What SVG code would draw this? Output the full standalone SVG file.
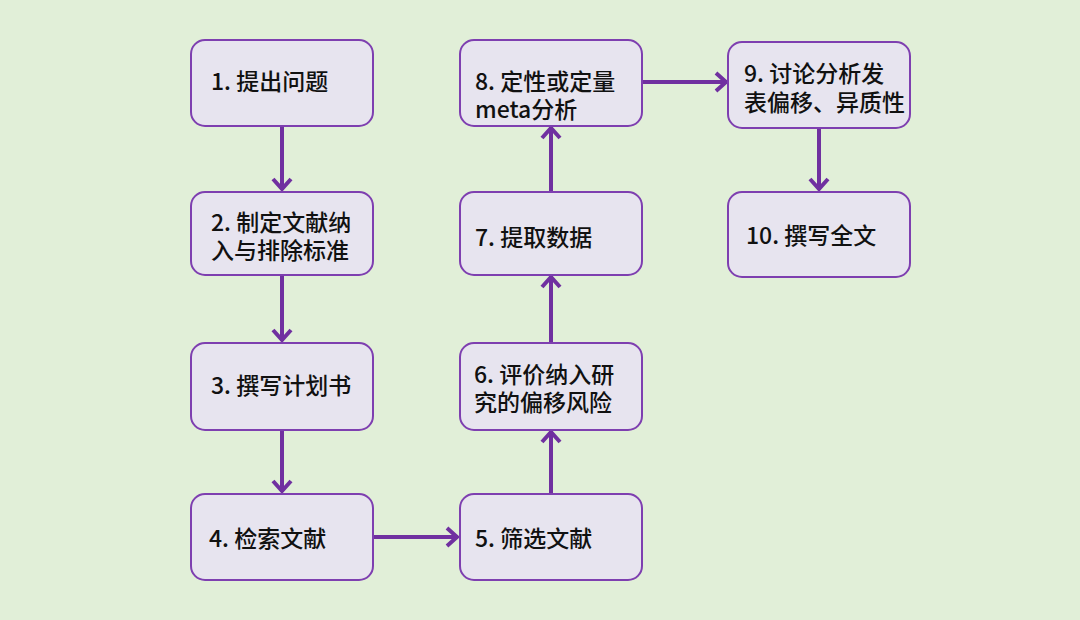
<svg xmlns="http://www.w3.org/2000/svg" width="1080" height="620" viewBox="0 0 1080 620">
<style>
.box{fill:#e7e4ef;stroke:#7e3fb0;stroke-width:2}
.t{font-family:"Noto Sans CJK SC","Noto Sans",sans-serif;font-size:23px;font-weight:500;fill:#111}
.c{stroke:#7030a0;stroke-width:4;fill:none}
</style>
<defs>
<marker id="ah" markerUnits="userSpaceOnUse" markerWidth="30" markerHeight="30" refX="0" refY="0" viewBox="-15 -15 30 30" orient="auto" overflow="visible">
<path d="M-11,-9 L-1,0 L-11,9" fill="none" stroke="#7030a0" stroke-width="4" stroke-linejoin="miter" stroke-linecap="butt"/>
</marker>
</defs>
<rect width="1080" height="620" fill="#e1efd8"/>
<g id="connectors">
<line class="c" x1="282" y1="127" x2="282" y2="190" marker-end="url(#ah)"/>
<line class="c" x1="282" y1="276" x2="282" y2="341" marker-end="url(#ah)"/>
<line class="c" x1="282" y1="431" x2="282" y2="492" marker-end="url(#ah)"/>
<line class="c" x1="374" y1="537" x2="458" y2="537" marker-end="url(#ah)"/>
<line class="c" x1="551" y1="493" x2="551" y2="431" marker-end="url(#ah)"/>
<line class="c" x1="551" y1="342" x2="551" y2="276" marker-end="url(#ah)"/>
<line class="c" x1="551" y1="191" x2="551" y2="127" marker-end="url(#ah)"/>
<line class="c" x1="643" y1="82" x2="727" y2="82" marker-end="url(#ah)"/>
<line class="c" x1="819" y1="129" x2="819" y2="190" marker-end="url(#ah)"/>
</g>
<g id="n1"><rect class="box" x="191" y="40" width="182" height="86" rx="14"/><text class="t" x="211" y="90">1. 提出问题</text></g>
<g id="n2"><rect class="box" x="191" y="192" width="182" height="83" rx="14"/><text class="t" x="211" y="231">2. 制定文献纳</text><text class="t" x="211" y="259">入与排除标准</text></g>
<g id="n3"><rect class="box" x="191" y="343" width="182" height="87" rx="14"/><text class="t" x="211" y="394">3. 撰写计划书</text></g>
<g id="n4"><rect class="box" x="191" y="494" width="182" height="86" rx="14"/><text class="t" x="209" y="547">4. 检索文献</text></g>
<g id="n5"><rect class="box" x="460" y="494" width="182" height="86" rx="14"/><text class="t" x="475" y="547">5. 筛选文献</text></g>
<g id="n6"><rect class="box" x="460" y="343" width="182" height="87" rx="14"/><text class="t" x="474" y="383">6. 评价纳入研</text><text class="t" x="474" y="411">究的偏移风险</text></g>
<g id="n7"><rect class="box" x="460" y="192" width="182" height="83" rx="14"/><text class="t" x="475" y="246">7. 提取数据</text></g>
<g id="n8"><rect class="box" x="460" y="40" width="182" height="86" rx="14"/><text class="t" x="475" y="90">8. 定性或定量</text><text class="t" x="475" y="118">meta分析</text></g>
<g id="n9"><rect class="box" x="728" y="42" width="182" height="86" rx="14"/><text class="t" x="744" y="82">9. 讨论分析发</text><text class="t" x="744" y="111">表偏移、异质性</text></g>
<g id="n10"><rect class="box" x="728" y="192" width="182" height="85" rx="14"/><text class="t" x="746" y="244">10. 撰写全文</text></g>
</svg>
